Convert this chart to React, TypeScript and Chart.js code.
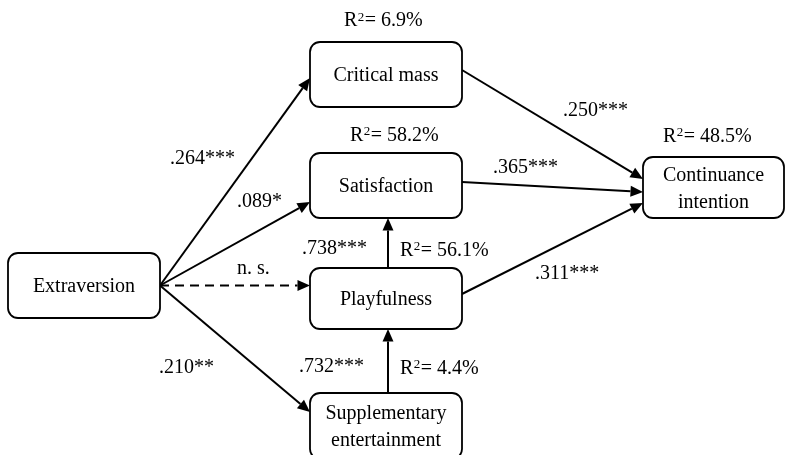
import React, { useEffect, useRef } from 'react';
import { Chart, registerables } from 'chart.js';
Chart.register(...registerables);

// Constructs (nodes) of the path model
const nodeNames = ['Extraversion', 'Critical mass', 'Satisfaction', 'Playfulness', 'Supplementary\nentertainment', 'Continuance\nintention'];
const nodeX = [84, 386, 386, 386, 386, 713.5];
const nodeY = [285.5, 74.5, 185.5, 298.5, 426, 187.5];

// Explained variance per construct
const r2Node = [1, 2, 3, 4, 5];
const r2Values = ['6.9%', '58.2%', '56.1%', '4.4%', '48.5%'];
const r2X = [344, 350, 400, 400, 663];
const r2Y = [19.5, 134, 249, 367, 135];

// Paths (from -> to) with standardized coefficients
const pathFrom = [0, 0, 0, 0, 1, 2, 3, 3, 4];
const pathTo = [1, 2, 3, 4, 5, 5, 5, 2, 3];
const pathCoef = ['.264***', '.089*', 'n. s.', '.210**', '.250***', '.365***', '.311***', '.738***', '.732***'];
const pathStartX = [160, 160, 160, 160, 462, 462, 462, 388, 388];
const pathStartY = [285.5, 285.5, 285.5, 285.5, 70, 182, 294, 268, 393];
const pathEndX = [310, 310, 310, 310, 643, 643, 643, 388, 388];
const pathEndY = [78, 202, 285.5, 412, 179, 192, 203, 218, 329];
const coefX = [170, 237, 237, 159, 563, 493, 535, 302, 299];
const coefY = [157, 200, 267, 366, 109, 166, 272, 247, 365];

const BOX_W = [152, 152, 152, 152, 152, 141];
const BOX_H = [65, 65, 65, 61, 66, 61];
const FONT = '"Liberation Serif", "Times New Roman", serif';

const diagramPlugin = {
  id: 'pathDiagram',
  afterDatasetsDraw(chart: any) {
    const ctx: CanvasRenderingContext2D = chart.ctx;
    const xs = chart.scales.x;
    const ys = chart.scales.y;
    const px = (v: number) => xs.getPixelForValue(v);
    const py = (v: number) => ys.getPixelForValue(v);
    ctx.save();
    ctx.strokeStyle = '#000';
    ctx.fillStyle = '#000';
    ctx.lineWidth = 2;

    // paths
    pathFrom.forEach((f, i) => {
      const x1 = px(pathStartX[i]), y1 = py(pathStartY[i]);
      const x2 = px(pathEndX[i]), y2 = py(pathEndY[i]);
      const ang = Math.atan2(y2 - y1, x2 - x1);
      const L = 12.5, W = 5.5;
      const bx = x2 - L * Math.cos(ang), by = y2 - L * Math.sin(ang);
      ctx.beginPath();
      ctx.setLineDash(pathCoef[i] === 'n. s.' ? [9, 6] : []);
      ctx.moveTo(x1, y1);
      ctx.lineTo(bx, by);
      ctx.stroke();
      ctx.setLineDash([]);
      ctx.beginPath();
      ctx.moveTo(x2, y2);
      ctx.lineTo(bx + W * Math.sin(ang), by - W * Math.cos(ang));
      ctx.lineTo(bx - W * Math.sin(ang), by + W * Math.cos(ang));
      ctx.closePath();
      ctx.fill();
    });

    // nodes
    ctx.lineWidth = 1.8;
    const meta = chart.getDatasetMeta(0);
    meta.data.forEach((pt: any, i: number) => {
      const w = BOX_W[i], h = BOX_H[i];
      const x = pt.x - w / 2, y = pt.y - h / 2;
      ctx.beginPath();
      ctx.fillStyle = '#fff';
      (ctx as any).roundRect(x, y, w, h, 10);
      ctx.fill();
      ctx.stroke();
      ctx.fillStyle = '#000';
      ctx.font = `20px ${FONT}`;
      ctx.textAlign = 'center';
      ctx.textBaseline = 'alphabetic';
      const lines = nodeNames[i].split('\n');
      lines.forEach((ln, j) => {
        const off = (j - (lines.length - 1) / 2) * 27;
        ctx.fillText(ln, pt.x, pt.y + off + 6.6);
      });
    });

    // coefficients
    ctx.textAlign = 'left';
    ctx.font = `20px ${FONT}`;
    pathCoef.forEach((c, i) => {
      ctx.fillText(c, px(coefX[i]), py(coefY[i]) + 6.6);
    });

    // R squared
    r2Values.forEach((v, i) => {
      const x = px(r2X[i]), base = py(r2Y[i]) + 6.6;
      ctx.font = `20px ${FONT}`;
      ctx.fillText('R', x, base);
      const wR = ctx.measureText('R').width;
      ctx.font = `13px ${FONT}`;
      ctx.fillText('2', x + wR + 0.5, base - 5.5);
      const w2 = ctx.measureText('2').width;
      ctx.font = `20px ${FONT}`;
      ctx.fillText('= ' + v, x + wR + w2 + 1, base);
    });
    ctx.restore();
  },
};

export default function App() {
  const ref = useRef<HTMLCanvasElement>(null);
  useEffect(() => {
    const chart = new Chart(ref.current!, {
      type: 'scatter',
      data: {
        datasets: [{
          label: 'Constructs',
          data: nodeX.map((x, i) => ({ x, y: nodeY[i] })),
          pointRadius: 0,
          showLine: false,
        }],
      },
      options: {
        animation: false,
        responsive: false,
        devicePixelRatio: 1,
        events: [],
        layout: { padding: 0 },
        plugins: { legend: { display: false }, tooltip: { enabled: false } },
        scales: {
          x: { type: 'linear', min: 0, max: 785, display: false },
          y: { type: 'linear', min: 0, max: 455, reverse: true, display: false },
        },
      },
      plugins: [diagramPlugin],
    });
    return () => chart.destroy();
  }, []);
  return (
    <div style={{ position: 'fixed', left: 0, top: 0, width: 785, height: 455, background: '#fff' }}>
      <canvas ref={ref} width={785} height={455} style={{ display: 'block' }} />
    </div>
  );
}
